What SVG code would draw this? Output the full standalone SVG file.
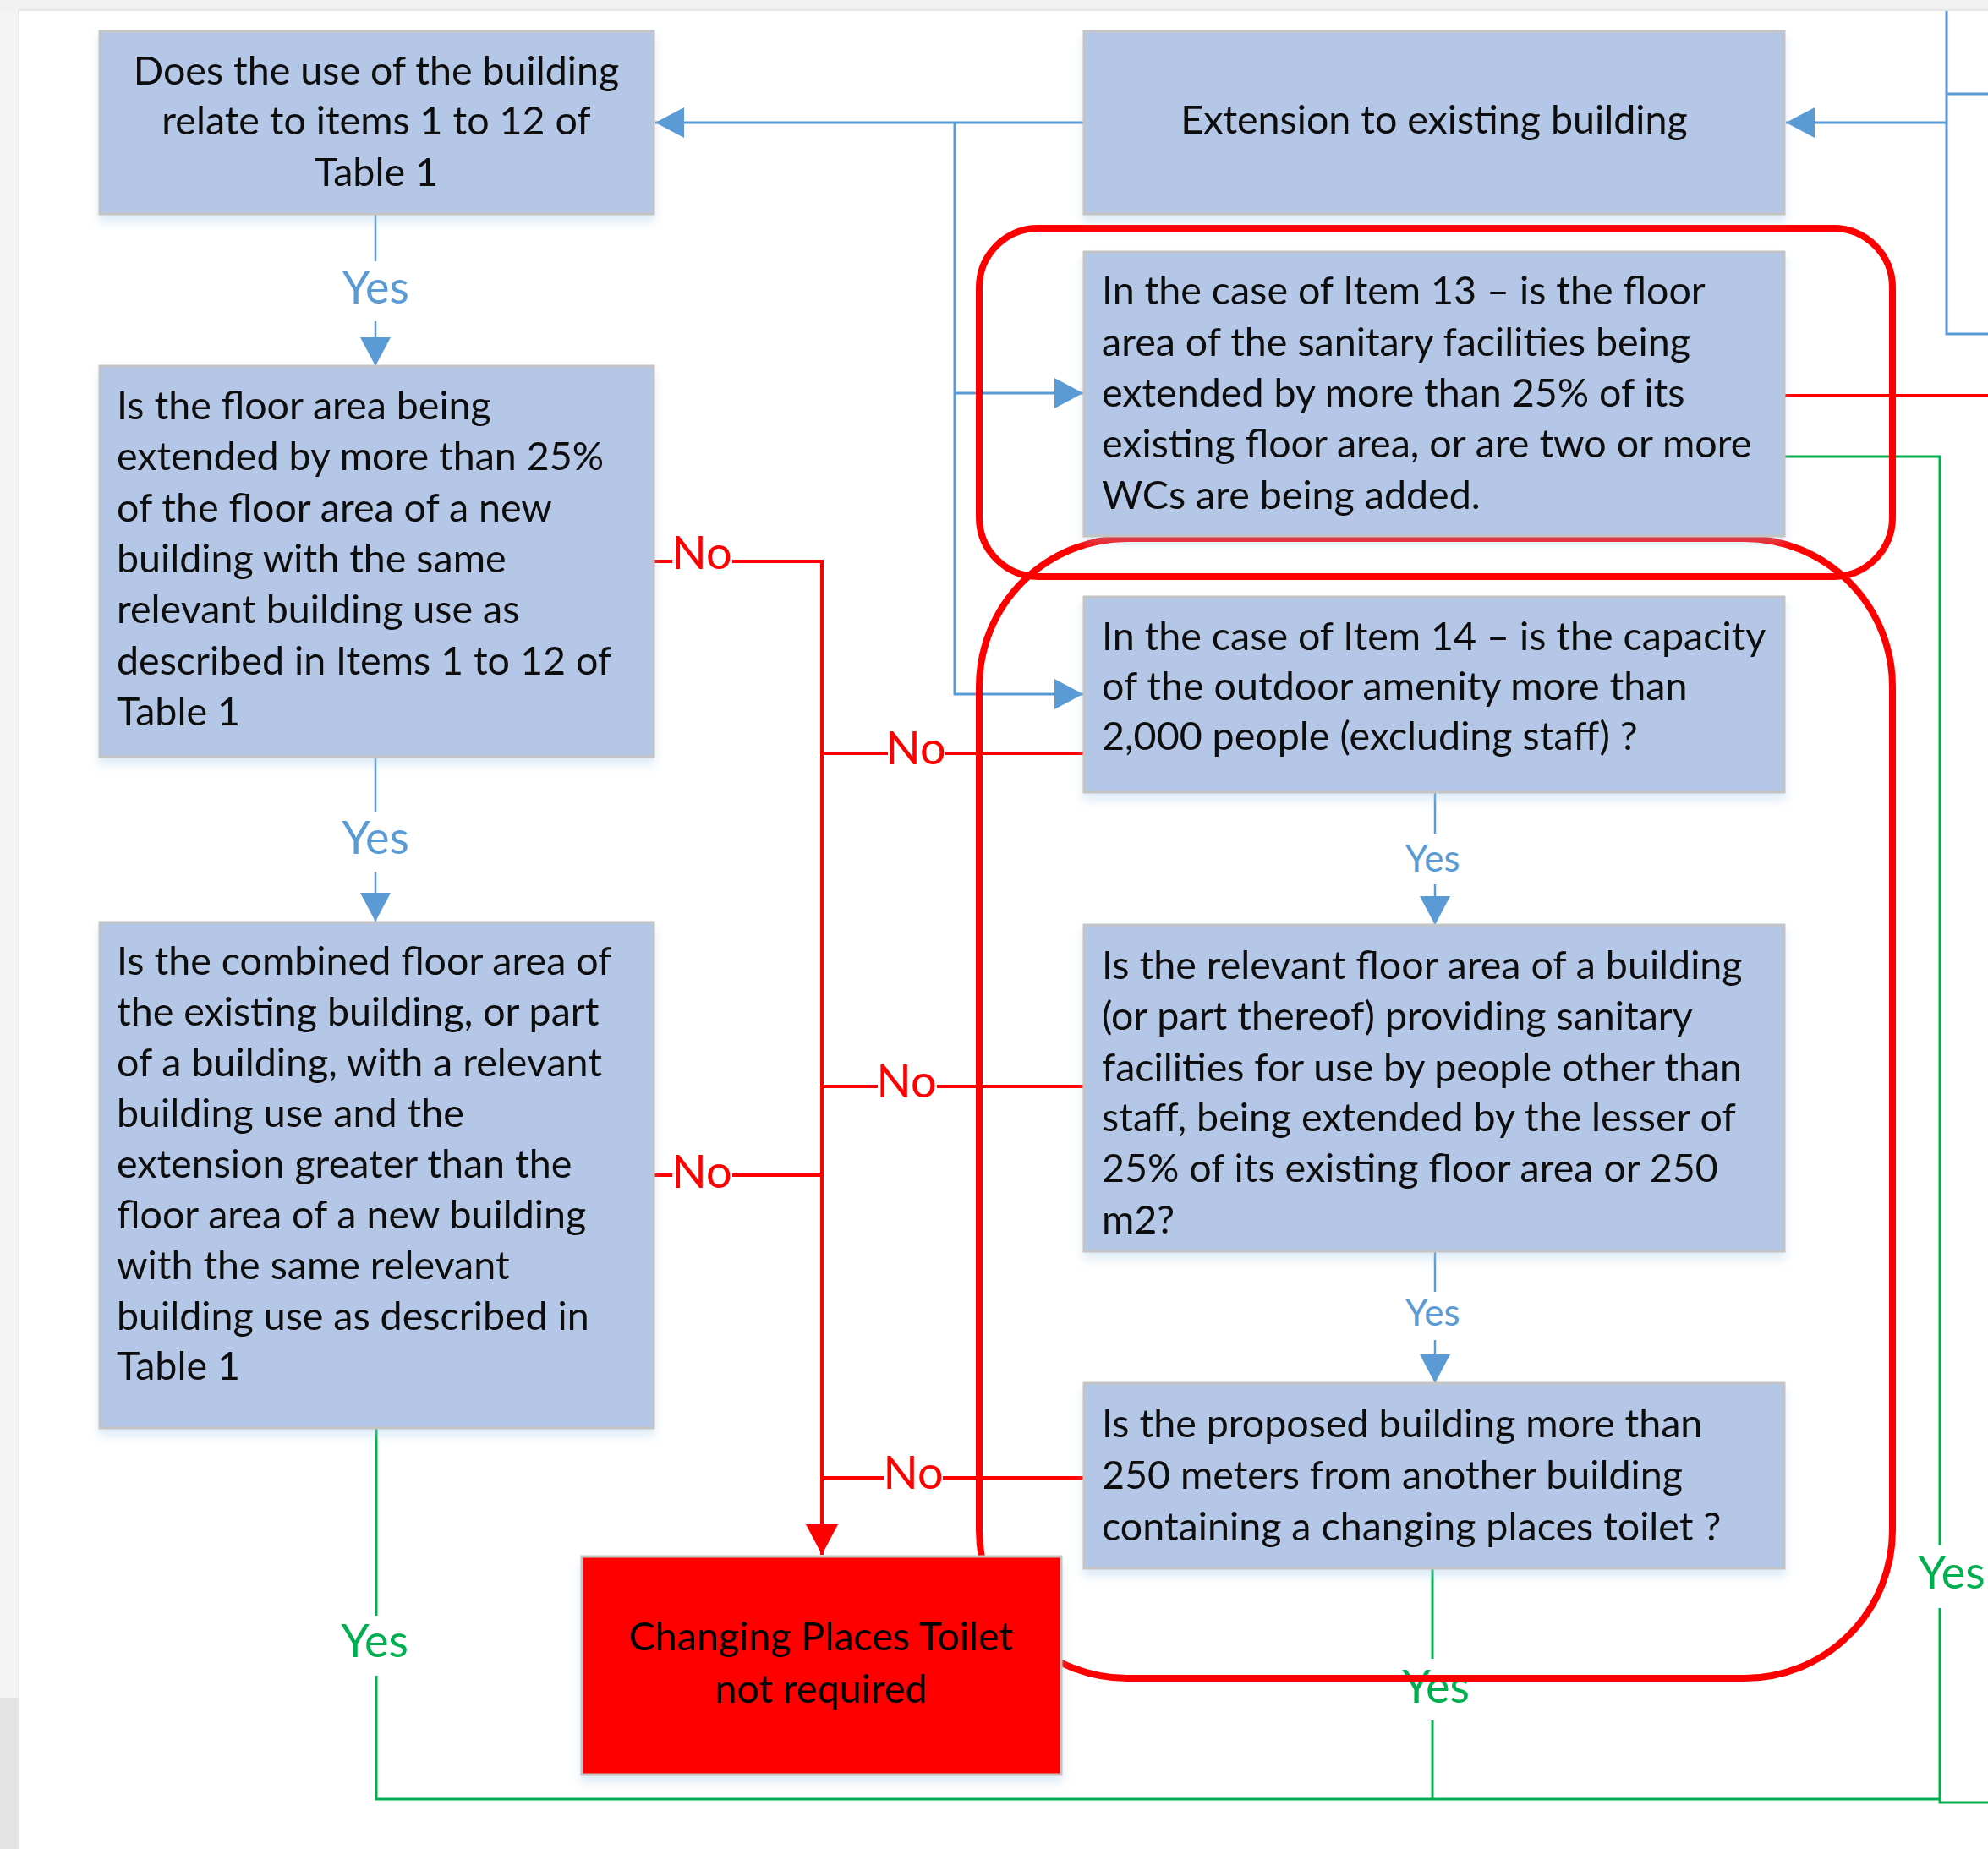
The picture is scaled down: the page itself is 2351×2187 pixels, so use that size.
<svg xmlns="http://www.w3.org/2000/svg" width="2351" height="2187" viewBox="0 0 2351 2187">
<style>
.box{fill:#b4c7e7;stroke:#c4c4c4;stroke-width:3}
.redbox{fill:#ff0000;stroke:#c4c4c4;stroke-width:3}
.t{font-family:Lato,"Open Sans","Liberation Sans",sans-serif;font-size:46.6px;fill:#111111}
.c{text-anchor:middle}
.lbl{font-family:Lato,"Open Sans","Liberation Sans",sans-serif;font-size:54px;text-anchor:middle}
.sm{font-size:44px}
.blue{fill:#5b9bd5}
.green{fill:#00b050}
.red{fill:#ff0000}
.bl{fill:none;stroke:#5b9bd5;stroke-width:3}
.bt{fill:none;stroke:#5b9bd5;stroke-width:2.5}
.rl{fill:none;stroke:#ff0000;stroke-width:4}
.gl{fill:none;stroke:#00b050;stroke-width:3}
.ring{fill:none;stroke:#ff0000;stroke-width:8}
</style>
<defs>
<marker id="ab" markerUnits="userSpaceOnUse" markerWidth="36" markerHeight="36" refX="34" refY="18" orient="auto"><path d="M0,0 L34,18 L0,36 z" fill="#5b9bd5"/></marker>
<marker id="ar" markerUnits="userSpaceOnUse" markerWidth="38" markerHeight="38" refX="36" refY="19" orient="auto"><path d="M0,0 L36,19 L0,38 z" fill="#ff0000"/></marker>
<filter id="sh" x="-5%" y="-5%" width="110%" height="120%"><feDropShadow dx="0" dy="8" stdDeviation="6" flood-color="#9dc3e6" flood-opacity="0.35"/></filter>
</defs>
<rect x="0" y="0" width="2351" height="2187" fill="#ffffff"/>
<rect x="0" y="0" width="2351" height="12" fill="#f1f1f1"/>
<rect x="0" y="12" width="22" height="2175" fill="#f3f3f3"/>
<rect x="0" y="2008" width="22" height="179" fill="#e4e4e4"/>
<path d="M22,12 H2351" stroke="#e6e6e6" stroke-width="2"/>
<path d="M22,12 V2187" stroke="#ebebeb" stroke-width="2"/>

<g id="connectors">
  <path class="bl" d="M1282,145 H775" marker-end="url(#ab)"/>
  <path class="bl" d="M1129,145 V821 H1281" marker-end="url(#ab)"/>
  <path class="bl" d="M1129,465 H1281" marker-end="url(#ab)"/>
  <path class="bl" d="M2302,13 V395 H2351"/>
  <path class="bl" d="M2302,111 H2351"/>
  <path class="bl" d="M2302,145 H2112" marker-end="url(#ab)"/>
  <path class="bt" d="M444,253 V309"/>
  <path class="bt" d="M444,380 V433" marker-end="url(#ab)"/>
  <path class="bt" d="M444,895 V960"/>
  <path class="bt" d="M444,1031 V1090" marker-end="url(#ab)"/>
  <path class="bt" d="M1697,937 V986"/>
  <path class="bt" d="M1697,1046 V1094" marker-end="url(#ab)"/>
  <path class="bt" d="M1697,1480 V1528"/>
  <path class="bt" d="M1697,1585 V1636" marker-end="url(#ab)"/>
  <text class="lbl blue" x="444" y="359">Yes</text>
  <text class="lbl blue" x="444" y="1010">Yes</text>
  <text class="lbl sm blue" x="1694" y="1031">Yes</text>
  <text class="lbl sm blue" x="1694" y="1568">Yes</text>

  <path class="rl" d="M773,664 H795"/>
  <path class="rl" d="M866,664 H972 V1839" marker-end="url(#ar)"/>
  <path class="rl" d="M773,1390 H795"/>
  <path class="rl" d="M866,1390 H972"/>
  <path class="rl" d="M1282,891 H1118"/>
  <path class="rl" d="M1050,891 H972"/>
  <path class="rl" d="M1282,1285 H1108"/>
  <path class="rl" d="M1038,1285 H972"/>
  <path class="rl" d="M1282,1748 H1115"/>
  <path class="rl" d="M1045,1748 H972"/>
  <path class="rl" d="M2110,468 H2351"/>
  <text class="lbl red" x="830" y="673">No</text>
  <text class="lbl red" x="830" y="1405">No</text>
  <text class="lbl red" x="1083" y="904">No</text>
  <text class="lbl red" x="1072" y="1298">No</text>
  <text class="lbl red" x="1080" y="1761">No</text>

  <path class="gl" d="M445,1690 V1911"/>
  <path class="gl" d="M445,1982 V2128 H2294"/>
  <path class="gl" d="M1694,1855 V1962"/>
  <path class="gl" d="M1694,2035 V2128"/>
  <path class="gl" d="M2110,540 H2294 V1828"/>
  <path class="gl" d="M2294,1902 V2132 H2351"/>
  <text class="lbl green" x="443" y="1960">Yes</text>
  <text class="lbl green" x="1698" y="2014">Yes</text>
  <text class="lbl green" x="2268" y="1879" style="text-anchor:start">Yes</text>

  <rect class="ring" x="1158" y="270" width="1080" height="412" rx="70"/>
  <rect class="ring" x="1158" y="637" width="1080" height="1348" rx="175"/>
</g>

<g id="n-use" filter="url(#sh)">
  <rect class="box" x="118" y="37" width="655" height="216"/>
  <text class="t c" x="445" y="100">Does the use of the building</text>
  <text class="t c" x="445" y="159">relate to items 1 to 12 of</text>
  <text class="t c" x="445" y="220">Table 1</text>
</g>
<g id="n-extension" filter="url(#sh)">
  <rect class="box" x="1282" y="37" width="828" height="216"/>
  <text class="t c" x="1696" y="158">Extension to existing building</text>
</g>
<g id="n-item13" filter="url(#sh)">
  <rect class="box" x="1282" y="298" width="828" height="336"/>
  <text class="t" x="1303" y="360">In the case of Item 13 – is the floor</text>
  <text class="t" x="1303" y="421">area of the sanitary facilities being</text>
  <text class="t" x="1303" y="481">extended by more than 25% of its</text>
  <text class="t" x="1303" y="541">existing floor area, or are two or more</text>
  <text class="t" x="1303" y="602">WCs are being added.</text>
</g>
<g id="n-floor" filter="url(#sh)">
  <rect class="box" x="118" y="433" width="655" height="462"/>
  <text class="t" x="138" y="496">Is the floor area being</text>
  <text class="t" x="138" y="556">extended by more than 25%</text>
  <text class="t" x="138" y="617">of the floor area of a new</text>
  <text class="t" x="138" y="677">building with the same</text>
  <text class="t" x="138" y="737">relevant building use as</text>
  <text class="t" x="138" y="798">described in Items 1 to 12 of</text>
  <text class="t" x="138" y="858">Table 1</text>
</g>
<g id="n-item14" filter="url(#sh)">
  <rect class="box" x="1282" y="706" width="828" height="231"/>
  <text class="t" x="1303" y="769">In the case of Item 14 – is the capacity</text>
  <text class="t" x="1303" y="828">of the outdoor amenity more than</text>
  <text class="t" x="1303" y="887">2,000 people (excluding staff) ?</text>
</g>
<g id="n-combined" filter="url(#sh)">
  <rect class="box" x="118" y="1091" width="655" height="598"/>
  <text class="t" x="138" y="1153">Is the combined floor area of</text>
  <text class="t" x="138" y="1213">the existing building, or part</text>
  <text class="t" x="138" y="1273">of a building, with a relevant</text>
  <text class="t" x="138" y="1333">building use and the</text>
  <text class="t" x="138" y="1393">extension greater than the</text>
  <text class="t" x="138" y="1453">floor area of a new building</text>
  <text class="t" x="138" y="1513">with the same relevant</text>
  <text class="t" x="138" y="1573">building use as described in</text>
  <text class="t" x="138" y="1632">Table 1</text>
</g>
<g id="n-relevant" filter="url(#sh)">
  <rect class="box" x="1282" y="1094" width="828" height="386"/>
  <text class="t" x="1303" y="1158">Is the relevant floor area of a building</text>
  <text class="t" x="1303" y="1218">(or part thereof) providing sanitary</text>
  <text class="t" x="1303" y="1279">facilities for use by people other than</text>
  <text class="t" x="1303" y="1338">staff, being extended by the lesser of</text>
  <text class="t" x="1303" y="1398">25% of its existing floor area or 250</text>
  <text class="t" x="1303" y="1459">m2?</text>
</g>
<g id="n-proposed" filter="url(#sh)">
  <rect class="box" x="1282" y="1636" width="828" height="219"/>
  <text class="t" x="1303" y="1700">Is the proposed building more than</text>
  <text class="t" x="1303" y="1761">250 meters from another building</text>
  <text class="t" x="1303" y="1822">containing a changing places toilet ?</text>
</g>
<g id="n-notrequired" filter="url(#sh)">
  <rect class="redbox" x="688" y="1841" width="567" height="258"/>
  <text class="t c" x="971" y="1952" style="fill:#000">Changing Places Toilet</text>
  <text class="t c" x="971" y="2014" style="fill:#000">not required</text>
</g>
</svg>
